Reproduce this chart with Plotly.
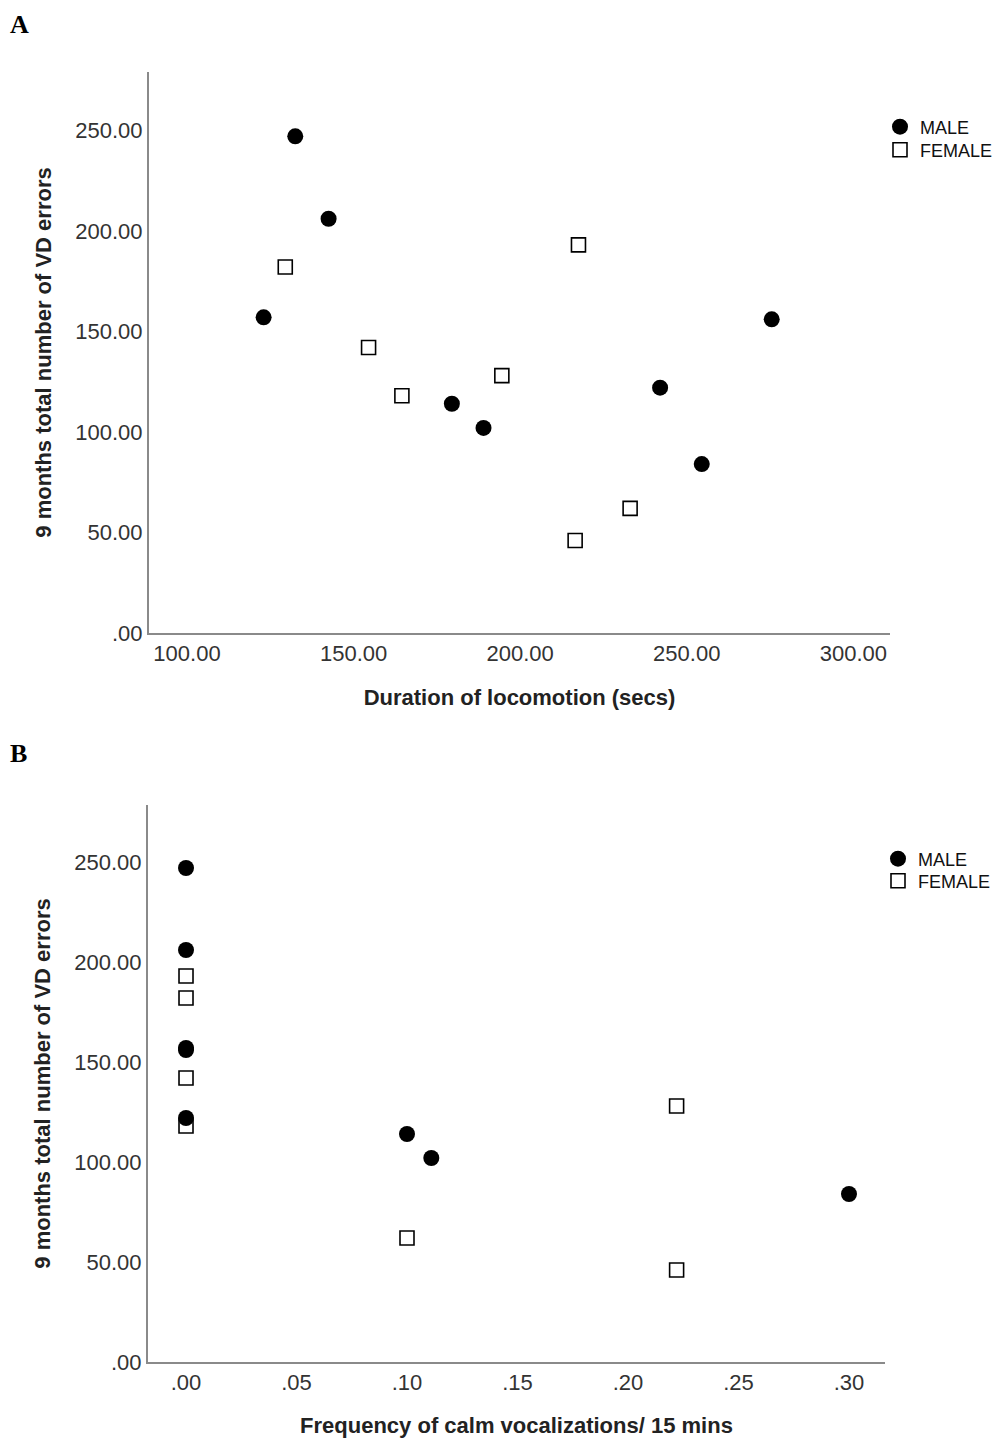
import plotly.graph_objects as go

# Shared outcome values (9 months total number of VD errors)
male_errors = [157, 247, 206, 114, 102, 122, 84, 156]
female_errors = [182, 142, 118, 128, 193, 46, 62]

# Panel A: duration of locomotion (secs)
male_locomotion = [123, 132.5, 142.5, 179.5, 189, 242, 254.5, 275.5]
female_locomotion = [129.5, 154.5, 164.5, 194.5, 217.5, 216.5, 233]

# Panel B: frequency of calm vocalizations / 15 mins
male_calm = [0.0, 0.0, 0.0, 0.10, 0.111, 0.0, 0.30, 0.0]
female_calm = [0.0, 0.0, 0.0, 0.222, 0.0, 0.222, 0.10]

y_tickvals = [0, 50, 100, 150, 200, 250]
y_ticktext = [".00", "50.00", "100.00", "150.00", "200.00", "250.00"]
xa_tickvals = [100, 150, 200, 250, 300]
xa_ticktext = ["100.00", "150.00", "200.00", "250.00", "300.00"]
xb_tickvals = [0, 0.05, 0.10, 0.15, 0.20, 0.25, 0.30]
xb_ticktext = [".00", ".05", ".10", ".15", ".20", ".25", ".30"]

W, H = 1002, 1440
OFF = 8  # page body margin
FONT = "Liberation Sans, Arial, sans-serif"

fig = go.Figure()

male_marker = dict(symbol="circle", size=16, color="black", line=dict(width=0))
female_marker = dict(symbol="square-open", size=14, color="black", line=dict(width=1.6))

fig.add_trace(go.Scatter(x=male_locomotion, y=male_errors, mode="markers", name="MALE",
                         marker=male_marker, xaxis="x", yaxis="y", legend="legend", showlegend=True))
fig.add_trace(go.Scatter(x=female_locomotion, y=female_errors, mode="markers", name="FEMALE",
                         marker=female_marker, xaxis="x", yaxis="y", legend="legend2", showlegend=True))
fig.add_trace(go.Scatter(x=male_calm, y=male_errors, mode="markers", name="MALE",
                         marker=male_marker, xaxis="x2", yaxis="y2", legend="legend3", showlegend=True))
fig.add_trace(go.Scatter(x=female_calm, y=female_errors, mode="markers", name="FEMALE",
                         marker=female_marker, xaxis="x2", yaxis="y2", legend="legend4", showlegend=True))

def sx(p):
    return (p - OFF) / W

def sy(p):
    return 1 - (p - OFF) / H

axis_common = dict(showgrid=False, zeroline=False, showline=True, linecolor="#8a8a8a",
                   linewidth=2, ticks="", automargin=False,
                   tickfont=dict(family=FONT, size=22, color="#333333"))
title_font = dict(family=FONT, size=22, color="#222222")
legend_font = dict(family=FONT, size=18, color="#111111")

def leg(xs, ys):
    return dict(x=sx(xs), y=sy(ys), xanchor="left", yanchor="middle",
                font=legend_font, bgcolor="rgba(0,0,0,0)", borderwidth=0,
                itemwidth=30, tracegroupgap=0)

fig.update_layout(
    width=W, height=H,
    showlegend=True,
    margin=dict(l=0, r=0, t=0, b=0, autoexpand=False),
    paper_bgcolor="white", plot_bgcolor="white",
    xaxis=dict(domain=[sx(149), sx(890)], range=[88.6, 311], anchor="y",
               tickvals=xa_tickvals, ticktext=xa_ticktext,
               title=dict(text="<b>Duration of locomotion (secs)</b>", font=title_font, standoff=24),
               **axis_common),
    yaxis=dict(domain=[sy(633), sy(72)], range=[0, 279], anchor="x",
               tickvals=y_tickvals, ticktext=y_ticktext,
               title=dict(text="<b>9 months total number of VD errors</b>", font=title_font, standoff=18),
               **axis_common),
    xaxis2=dict(domain=[sx(148), sx(885)], range=[-0.0172, 0.3163], anchor="y2",
                tickvals=xb_tickvals, ticktext=xb_ticktext,
                title=dict(text="<b>Frequency of calm vocalizations/ 15 mins</b>", font=title_font, standoff=23),
                **axis_common),
    yaxis2=dict(domain=[sy(1362), sy(805)], range=[0, 278.5], anchor="x2",
                tickvals=y_tickvals, ticktext=y_ticktext,
                title=dict(text="<b>9 months total number of VD errors</b>", font=title_font, standoff=18),
                **axis_common),
    legend=leg(880, 127),
    legend2=leg(880, 150),
    legend3=leg(878, 859),
    legend4=leg(878, 881),
    annotations=[
        dict(text="<b>A</b>", x=sx(8), y=sy(8), xref="paper", yref="paper",
             xanchor="left", yanchor="top", showarrow=False,
             font=dict(family="Liberation Serif, Times New Roman, serif", size=26, color="black")),
        dict(text="<b>B</b>", x=sx(8), y=sy(737), xref="paper", yref="paper",
             xanchor="left", yanchor="top", showarrow=False,
             font=dict(family="Liberation Serif, Times New Roman, serif", size=26, color="black")),
    ],
)

fig.write_html("out.html")
